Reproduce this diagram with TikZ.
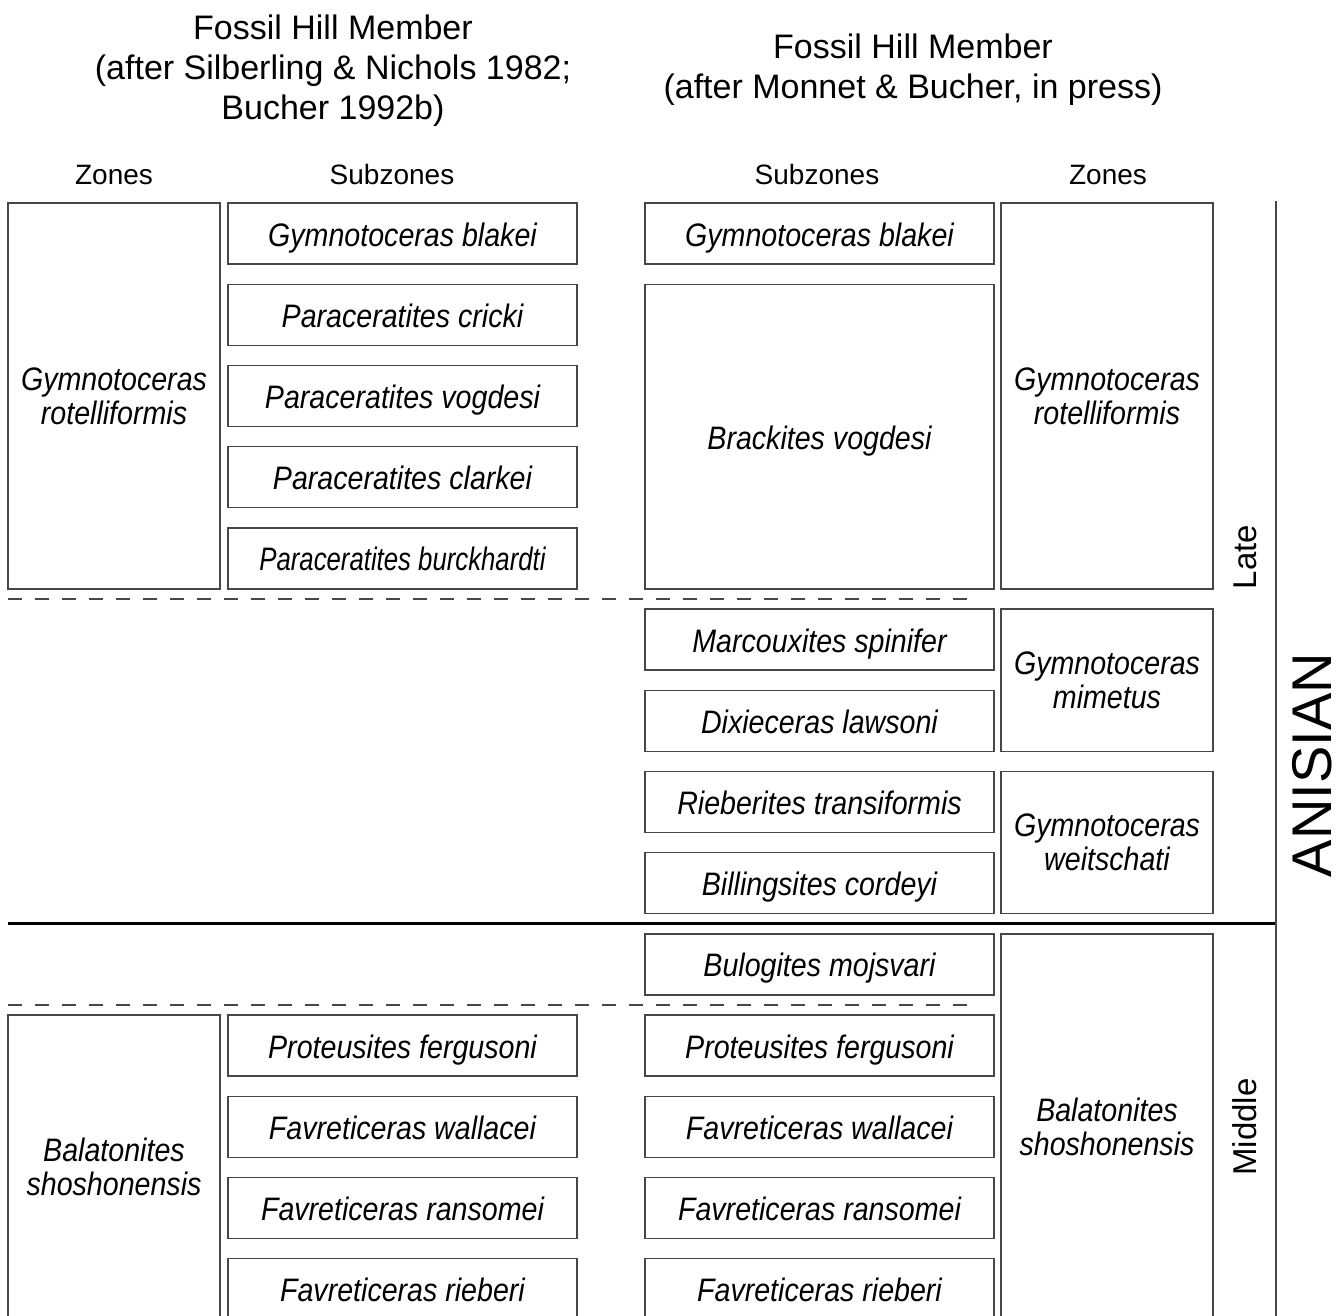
\documentclass[tikz,border=0pt]{standalone}
\usepackage{fontspec}
\setmainfont{Liberation Sans}
\newfontfamily\condfont[FakeStretch=0.88]{Liberation Sans}
\definecolor{linec}{gray}{0.28}
\newcommand{\nmfont}{\condfont\fontsize{32.5}{34}\selectfont\itshape}
\newcommand{\hdfont}{\fontsize{34}{40}\selectfont}
\newcommand{\colfont}{\fontsize{28}{34}\selectfont}
\newcommand{\agefont}{\fontsize{33}{40}\selectfont}
\newcommand{\stagefont}{\fontsize{56}{60}\selectfont}
\begin{document}
\begin{tikzpicture}[x=1pt,y=-1pt,
  box/.style={draw=linec, line width=1.4pt, inner sep=0pt, align=center, font=\nmfont, text=black},
  sub/.style={box, minimum width=349pt, minimum height=61pt, text height=25pt, text depth=0pt},
  zonebox/.style={box, minimum width=212pt},
  hdr/.style={font=\hdfont, anchor=base, inner sep=0pt},
  colhdr/.style={font=\colfont, anchor=base, inner sep=0pt},
  age/.style={font=\agefont, rotate=90, inner sep=0pt},
  stage/.style={font=\stagefont, rotate=90, inner sep=0pt},
  dashline/.style={draw=linec, line width=1.4pt, dash pattern=on 14pt off 13pt},
  boundline/.style={draw=black, line width=2.6pt},
  sideline/.style={draw=linec, line width=1.8pt}]
\clip (0,0) rectangle (1341,1316);
\fill[white] (0,0) rectangle (1341,1316);
% headers
\node[hdr] (h1a) at (333,40) {Fossil Hill Member};
\node[hdr] (h1b) at (333,80) {(after Silberling \& Nichols 1982;};
\node[hdr] (h1c) at (333,120) {Bucher 1992b)};
\node[hdr] (h2a) at (913,58.5) {Fossil Hill Member};
\node[hdr] (h2b) at (913,98.5) {(after Monnet \& Bucher, in press)};
\node[colhdr] (c1) at (114,185) {Zones};
\node[colhdr] (c2) at (392,185) {Subzones};
\node[colhdr] (c3) at (817,185) {Subzones};
\node[colhdr] (c4) at (1108,185) {Zones};
% left zones
\node[zonebox, minimum height=385.8pt] (lz1) at (114,395.9) {Gymnotoceras\\rotelliformis};
\node[zonebox, minimum height=304.6pt] (lz2) at (114,1167.3) {Balatonites\\shoshonensis};
% left subzones
\node[sub] (ls1) at (402.5,233.5) {Gymnotoceras blakei};
\node[sub] (ls2) at (402.5,314.7) {Paraceratites cricki};
\node[sub] (ls3) at (402.5,395.9) {Paraceratites vogdesi};
\node[sub] (ls4) at (402.5,477.1) {Paraceratites clarkei};
\node[sub] (ls5) at (402.5,558.3) {\scalebox{0.9}[1]{Paraceratites burckhardti}};
\node[sub] (ls6) at (402.5,1045.5) {Proteusites fergusoni};
\node[sub] (ls7) at (402.5,1126.7) {Favreticeras wallacei};
\node[sub] (ls8) at (402.5,1207.9) {Favreticeras ransomei};
\node[sub] (ls9) at (402.5,1289.1) {Favreticeras rieberi};
% right subzones
\node[sub] (rs1) at (819.5,233.5) {Gymnotoceras blakei};
\node[sub, minimum height=304.6pt] (rs2) at (819.5,436.5) {Brackites vogdesi};
\node[sub] (rs3) at (819.5,639.5) {Marcouxites spinifer};
\node[sub] (rs4) at (819.5,720.7) {Dixieceras lawsoni};
\node[sub] (rs5) at (819.5,801.9) {Rieberites transiformis};
\node[sub] (rs6) at (819.5,883.1) {Billingsites cordeyi};
\node[sub] (rs7) at (819.5,964.3) {Bulogites mojsvari};
\node[sub] (rs8) at (819.5,1045.5) {Proteusites fergusoni};
\node[sub] (rs9) at (819.5,1126.7) {Favreticeras wallacei};
\node[sub] (rs10) at (819.5,1207.9) {Favreticeras ransomei};
\node[sub] (rs11) at (819.5,1289.1) {Favreticeras rieberi};
% right zones
\node[zonebox, minimum height=385.8pt] (rz1) at (1107,395.9) {Gymnotoceras\\rotelliformis};
\node[zonebox, minimum height=142.2pt] (rz2) at (1107,680.1) {Gymnotoceras\\mimetus};
\node[zonebox, minimum height=142.2pt] (rz3) at (1107,842.5) {Gymnotoceras\\weitschati};
\node[zonebox, minimum height=385.8pt] (rz4) at (1107,1126.7) {Balatonites\\shoshonensis};
% boundaries
\coordinate (d1a) at (8,598.9);
\coordinate (d1b) at (972,598.9);
\coordinate (d2a) at (8,1004.9);
\coordinate (d2b) at (972,1004.9);
\coordinate (sa) at (8,923.2);
\coordinate (sb) at (1276,923.2);
\coordinate (va) at (1276,201);
\coordinate (vb) at (1276,1330);
\draw[dashline] (d1a) -- (d1b);
\draw[dashline] (d2a) -- (d2b);
\draw[boundline] (sa) -- (sb);
\draw[sideline] (va) -- (vb);
% ages
\node[age] (late) at (1245,557) {Late};
\node[age] (mid) at (1245,1127) {Middle};
\node[stage] (anis) at (1312,765) {ANISIAN};
\end{tikzpicture}
\end{document}
